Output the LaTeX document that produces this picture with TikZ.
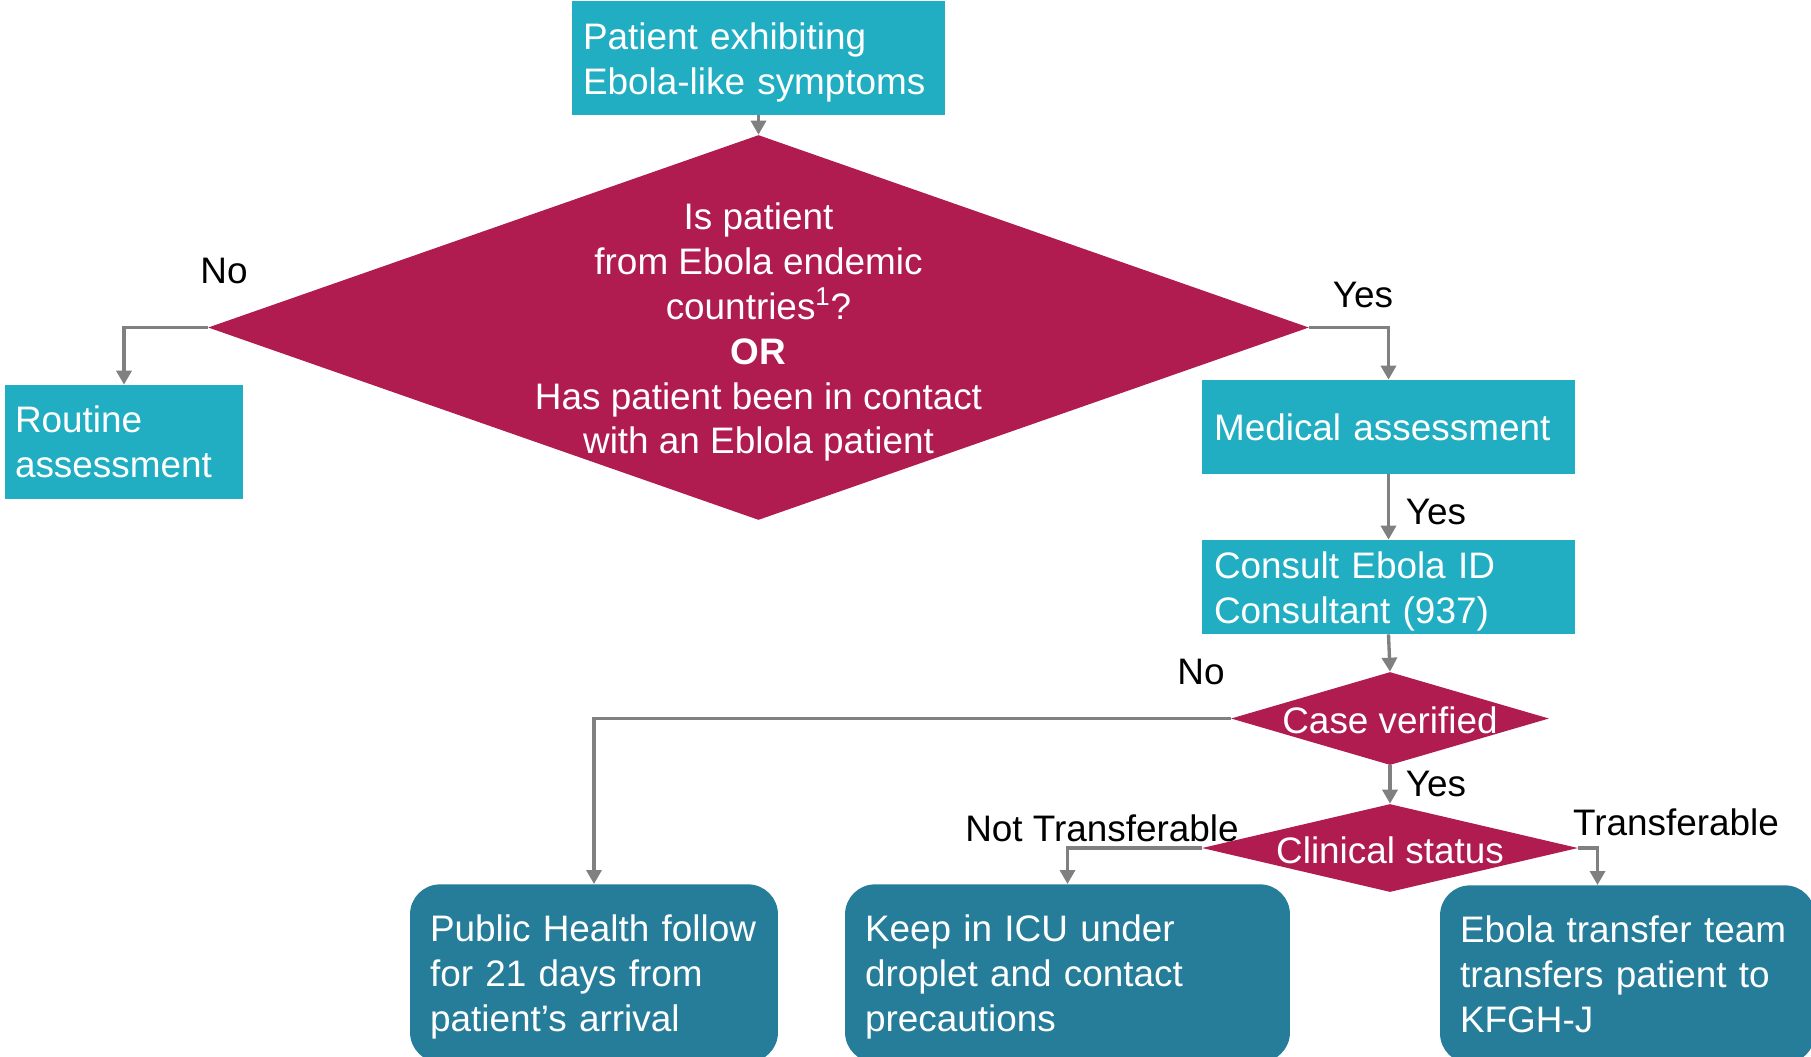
\documentclass[tikz,border=0pt]{standalone}
\usepackage{fontspec}
\setmainfont{Liberation Sans}
\usepackage{xcolor}
\usetikzlibrary{shapes.geometric, arrows.meta, positioning}

\definecolor{boxteal}{RGB}{33,174,195}
\definecolor{darkteal}{RGB}{37,125,153}
\definecolor{decisionred}{RGB}{176,28,80}
\definecolor{flowgray}{RGB}{128,128,128}

\begin{document}
\begin{tikzpicture}[x=0.02cm, y=-0.02cm]
    % Define styles
    \tikzstyle{stepbox} = [rectangle, fill=boxteal, text=white, align=left, inner xsep=0.22cm, inner ysep=0pt, font=\fontsize{21}{25.6}\selectfont]
    \tikzstyle{endbox} = [rectangle, rounded corners=0.6cm, fill=darkteal, text=white, align=left, inner xsep=0.4cm, inner ysep=0pt, minimum height=3.56cm, anchor=north, font=\fontsize{21}{25.6}\selectfont]
    \tikzstyle{decide} = [diamond, fill=decisionred, inner sep=0pt]
    \tikzstyle{dtext} = [text=white, align=center, inner sep=0pt, font=\fontsize{21}{25.6}\selectfont]
    \tikzstyle{answer} = [text=black, inner sep=0pt, font=\fontsize{21}{25.6}\selectfont]
    \tikzstyle{flow} = [draw=flowgray, line width=1.9pt, -{Triangle[length=0.28cm, width=0.3cm]}]

    \clip[use as bounding box] (0,0) rectangle (1811,1056);

    % Start and first question
    \node[stepbox, text width=7.02cm, minimum height=2.28cm, text depth=24.8pt] (start) at (758.5,58) {Patient exhibiting\\Ebola-like symptoms};
    \node[decide, minimum width=22.02cm, minimum height=7.7cm] (origin) at (758.5,327.5) {};
    \node[dtext] (origintext) at (758.5,332) {Is patient\\from Ebola endemic\\countries\textsuperscript{1}?\\\textbf{OR}\\Has patient been in contact\\with an Eblola patient};

    % Boxes after the first question
    \node[stepbox, text width=4.36cm, minimum height=2.28cm, inner xsep=0.2cm] (routine) at (124,442) {Routine\\assessment};
    \node[stepbox, text width=6.98cm, minimum height=1.88cm, inner xsep=0.24cm] (medical) at (1388.5,427) {Medical assessment};
    \node[stepbox, text width=6.98cm, minimum height=1.88cm, inner xsep=0.24cm, text depth=24.8pt] (consult) at (1388.5,587) {Consult Ebola ID\\Consultant (937)};

    % Smaller questions
    \node[decide, minimum width=6.36cm, minimum height=1.86cm] (verified) at (1390,718.5) {};
    \node[dtext] (verifiedtext) at (1390,720) {Case verified};
    \node[decide, minimum width=7.52cm, minimum height=1.76cm] (clinical) at (1390,848) {};
    \node[dtext] (clinicaltext) at (1390,850) {Clinical status};

    % Outcomes
    \node[endbox, text width=6.56cm, minimum width=7.36cm, text depth=51.5pt] (follow) at (594,884) {Public Health follow\\for 21 days from\\patient’s arrival};
    \node[endbox, text width=8.1cm, minimum width=8.9cm, text depth=51.5pt] (icu) at (1067.5,884) {Keep in ICU under\\droplet and contact\\precautions};
    \node[endbox, text width=6.7cm, minimum width=7.5cm] (transfer) at (1627.5,885) {Ebola transfer team\\transfers patient to\\KFGH-J};

    % Answers
    \node[answer] (no1) at (224,271) {No};
    \node[answer] (yes1) at (1363,295) {Yes};
    \node[answer] (yes2) at (1436,512) {Yes};
    \node[answer] (no2) at (1201,672) {No};
    \node[answer] (yes3) at (1436,784) {Yes};
    \node[answer] (nottrans) at (1102,828) {Not Transferable};
    \node[answer] (trans) at (1676,822) {Transferable};

    % Connections
    \draw[flow] (start.south) -- (origin.north);
    \draw[flow] (origin.west) -| (routine.north);
    \draw[flow] (origin.east) -| (medical.north);
    \draw[flow] (medical.south) -- (consult.north);
    \draw[flow] (consult.south) -- (verified.north);
    \draw[flow] (verified.west) -| (follow.north);
    \draw[flow] (verified.south) -- (clinical.north);
    \draw[flow] (clinical.west) -| (icu.north);
    \draw[flow] (clinical.east) -| ([xshift=-0.6cm]transfer.north);

\end{tikzpicture}
\end{document}
